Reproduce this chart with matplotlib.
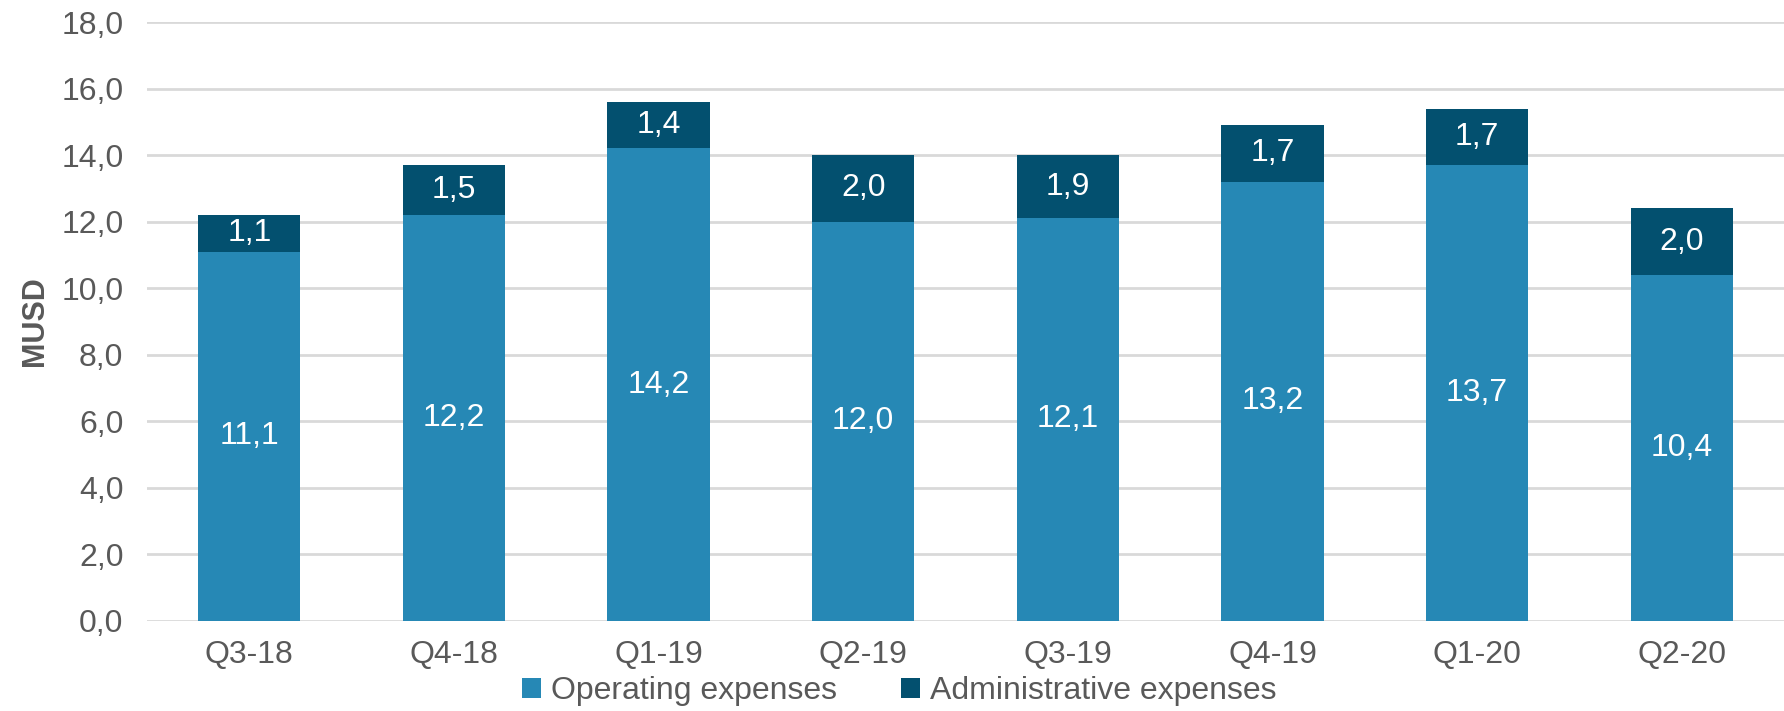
import matplotlib.pyplot as plt
import numpy as np

quarters = ['Q3-18', 'Q4-18', 'Q1-19', 'Q2-19', 'Q3-19', 'Q4-19', 'Q1-20', 'Q2-20']
operating = [11.1, 12.2, 14.2, 12.0, 12.1, 13.2, 13.7, 10.4]
administrative = [1.1, 1.5, 1.4, 2.0, 1.9, 1.7, 1.7, 2.0]

plt.rcParams['font.family'] = ['Liberation Sans', 'DejaVu Sans']

op_color = '#2688B5'
adm_color = '#03506F'
text_color = '#595959'

fig = plt.figure(figsize=(17.84, 7.11), dpi=100)
ax = fig.add_axes([0.0824, 0.127, 0.9176, 0.842])

x = np.arange(len(quarters))
ax.bar(x, operating, width=0.5, color=op_color, label='Operating expenses', zorder=2)
ax.bar(x, administrative, width=0.5, bottom=operating, color=adm_color,
       label='Administrative expenses', zorder=2)

fmt = lambda v: f'{v:.1f}'.replace('.', ',')
for i in range(len(quarters)):
    ax.text(x[i], operating[i] / 2, fmt(operating[i]), ha='center', va='center',
            color='white', fontsize=23)
    ax.text(x[i], operating[i] + administrative[i] / 2, fmt(administrative[i]),
            ha='center', va='center', color='white', fontsize=23)

ax.set_xlim(-0.5, len(quarters) - 0.5)
ax.set_ylim(0, 18)
ax.set_yticks(np.arange(0, 18.1, 2))
ax.set_yticklabels([fmt(v) for v in np.arange(0, 18.1, 2)])
ax.set_xticks(x)
ax.set_xticklabels(quarters)
ax.tick_params(axis='both', length=0, labelsize=23, colors=text_color)
ax.tick_params(axis='y', pad=17)
ax.tick_params(axis='x', pad=14)
ax.yaxis.grid(True, color='#D9D9D9', linewidth=2, zorder=0)
for s in ax.spines.values():
    s.set_visible(False)

ax.set_ylabel('MUSD', fontsize=22, fontweight='bold', color=text_color, labelpad=8)

fig.legend(loc='center', bbox_to_anchor=(0.504, 0.028), ncol=2, frameon=False,
           fontsize=23, handlelength=0.6, handleheight=0.6, handletextpad=0.3,
           columnspacing=2.0, labelcolor=text_color)

fig.savefig('out.png', dpi=100)
